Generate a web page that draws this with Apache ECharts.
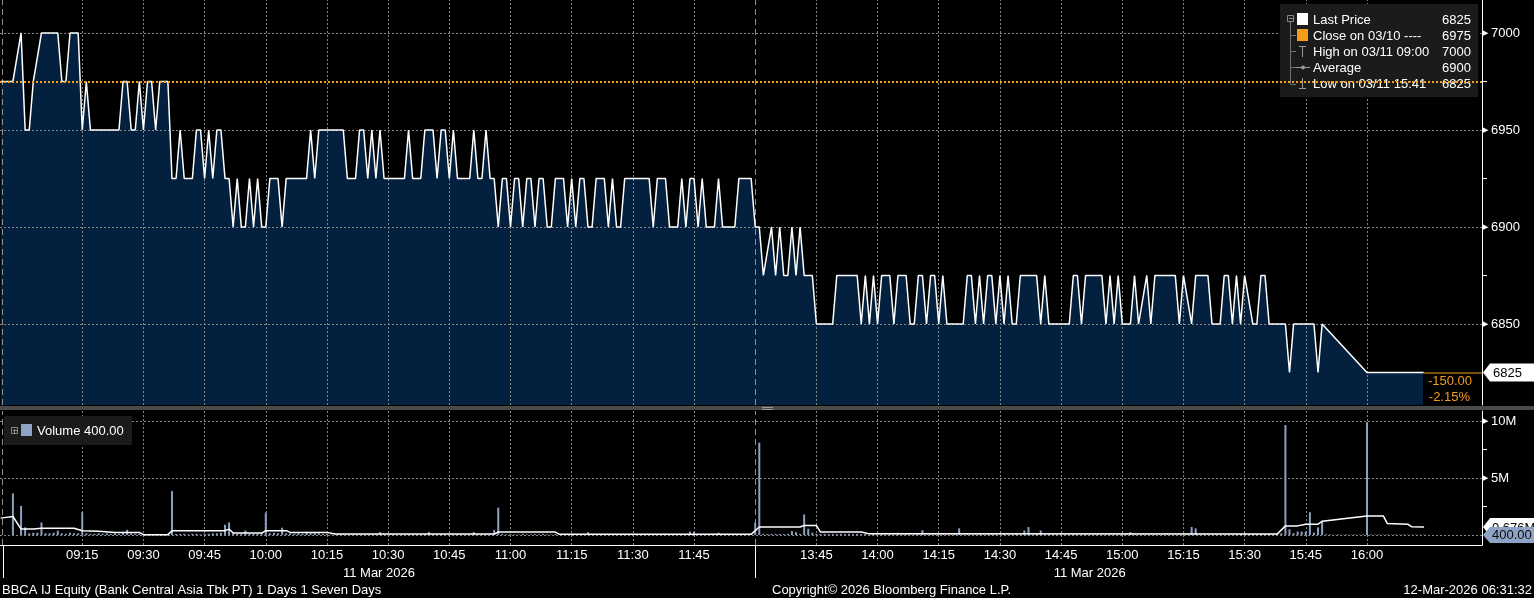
<!DOCTYPE html>
<html><head><meta charset="utf-8">
<script src="https://cdn.jsdelivr.net/npm/echarts@6/dist/echarts.min.js"></script>
<style>html,body{margin:0;padding:0;background:#000;overflow:hidden}#c{width:1534px;height:598px}</style>
</head><body><div id="c"></div>
<script>
// ---------------- DATA ----------------
const priceTimes = ['08:55','08:58','09:00','09:01','09:02','09:03','09:05','09:09','09:10','09:11','09:12','09:14','09:15','09:16','09:17','09:24','09:25','09:26','09:27','09:28','09:29','09:30','09:31','09:32','09:33','09:34','09:36','09:37','09:38','09:39','09:40','09:42','09:43','09:44','09:45','09:46','09:47','09:48','09:49','09:50','09:51','09:52','09:53','09:54','09:55','09:56','09:57','09:58','09:59','10:00','10:01','10:03','10:04','10:05','10:10','10:11','10:12','10:13','10:19','10:20','10:22','10:23','10:24','10:25','10:26','10:27','10:28','10:29','10:34','10:35','10:36','10:38','10:39','10:41','10:42','10:43','10:44','10:45','10:46','10:47','10:50','10:51','10:52','10:53','10:54','10:55','10:56','10:57','10:58','10:59','11:00','11:01','11:02','11:03','11:04','11:05','11:06','11:07','11:08','11:09','11:10','11:11','11:13','11:14','11:15','11:16','11:17','11:18','11:19','11:20','11:21','11:23','11:24','11:25','11:26','11:27','11:28','11:34','11:35','11:36','11:38','11:39','11:41','11:42','11:43','11:44','11:45','11:46','11:47','11:48','11:50','11:51','11:52','11:55','11:56','11:59','12:00',
'13:31','13:32','13:34','13:35','13:36','13:37','13:38','13:39','13:40','13:41','13:42','13:44','13:45','13:49','13:50','13:55','13:56','13:57','13:58','13:59','14:00','14:01','14:03','14:04','14:05','14:07','14:08','14:09','14:10','14:11','14:12','14:13','14:14','14:15','14:16','14:17','14:21','14:22','14:23','14:24','14:25','14:26','14:27','14:28','14:29','14:30','14:31','14:32','14:33','14:34','14:35','14:39','14:40','14:41','14:42','14:47','14:48','14:49','14:50','14:51','14:55','14:56','14:57','14:58','14:59','15:00','15:02','15:03','15:04','15:06','15:07','15:08','15:13','15:14','15:15','15:17','15:18','15:21','15:22','15:24','15:25','15:26','15:27','15:28','15:29','15:30','15:32','15:33','15:34','15:35','15:36','15:40','15:41','15:42','15:47','15:48','15:49','16:00','16:14'];
const priceValues = [6975,6975,7000,6950,6950,6975,7000,7000,6975,6975,7000,7000,6950,6975,6950,6950,6975,6975,6950,6950,6975,6950,6975,6975,6950,6975,6975,6925,6925,6950,6925,6925,6950,6950,6925,6950,6925,6950,6950,6925,6925,6900,6925,6900,6900,6925,6900,6925,6900,6900,6925,6925,6900,6925,6925,6950,6925,6950,6950,6925,6925,6950,6950,6925,6950,6925,6950,6925,6925,6950,6925,6925,6950,6950,6925,6950,6950,6925,6950,6925,6925,6950,6925,6925,6950,6925,6925,6900,6925,6925,6900,6925,6925,6900,6925,6925,6900,6925,6925,6900,6900,6925,6925,6900,6925,6900,6925,6925,6900,6900,6925,6925,6900,6925,6900,6900,6925,6925,6900,6925,6925,6900,6900,6925,6900,6925,6925,6900,6925,6900,6900,6925,6900,6900,6925,6925,6900,
6900,6875,6900,6875,6900,6875,6875,6900,6875,6900,6875,6875,6850,6850,6875,6875,6850,6875,6850,6875,6850,6875,6875,6850,6875,6875,6850,6850,6875,6875,6850,6875,6875,6850,6875,6850,6850,6875,6875,6850,6875,6850,6875,6875,6850,6875,6850,6875,6850,6850,6875,6875,6850,6875,6850,6850,6875,6875,6850,6875,6875,6850,6875,6850,6875,6850,6850,6875,6850,6875,6850,6875,6875,6850,6875,6850,6875,6875,6850,6850,6875,6875,6850,6875,6850,6875,6850,6850,6875,6875,6850,6850,6825,6850,6850,6825,6850,6825,6825];

// volume per minute (millions), morning 08:55..12:00, afternoon 13:31..16:14
const volMorningStart = '08:55';
const volMorning = [
0,0,0,3.65,0,2.55,0.67,0.15,0.2,0.2,
1.1,0.15,0.15,0.2,0.38,0.15,0.1,0.2,0.15,0.15,
2.0,0.15,0.1,0.1,0.15,0.1,0.15,0.1,0.15,0.1,
0.2,0.46,0.15,0.1,0.1,0.05,0.05,0.05,0.1,0.05,
0.05,0.1,3.85,0.1,0.1,0.1,0.05,0.1,0.1,0.05,
0.1,0.1,0.15,0.15,0.2,0.9,1.1,0.15,0.1,0.1,
0.38,0.1,0.1,0.1,0.15,1.97,0.15,0.2,0.15,0.64,
0.15,0.15,0.1,0.15,0.1,0.29,0.15,0.2,0.15,0.1,
0.1,0.05,0.05,0.1,0.05,0.05,0.05,0.08,0.05,0.05,
0.05,0.08,0.05,0.25,0.05,0.05,0.08,0.05,0.05,0.05,
0.08,0.05,0.05,0.05,0.08,0.25,0.05,0.05,0.08,0.05,
0.05,0.05,0.08,0.05,0.05,0.05,0.25,0.05,0.05,0.08,
0.05,0.45,2.4,0.1,0.05,0.08,0.05,0.05,0.1,0.05,
0.05,0.08,0.05,0.1,0.05,0.05,0.08,0.05,0.05,0.05,
0.08,0.05,0.05,0.1,0.25,0.05,0.05,0.08,0.05,0.05,
0.05,0.08,0.05,0.05,0.1,0.05,0.05,0.08,0.05,0.05,
0.08,0.05,0.05,0.1,0.05,0.05,0.08,0.05,0.05,0.3,
0.3,0.05,0.08,0.05,0.05,0.1,0.2,0.05,0.05,0.08,
0.05,0.05,0.08,0.05,0.1,1.1];
const volAfternoonStart = '13:31';
const volAfternoon = [
8.1,0.1,0.08,0.1,0.08,0.1,0.08,0.1,0.35,0.25,
0.1,1.8,0.55,0.2,0.1,0.08,0.1,0.08,0.1,0.08,
0.1,0.08,0.1,0.08,0.1,0.08,0.1,0.05,0.08,0.05,
0.08,0.05,0.1,0.05,0.2,0.05,0.08,0.05,0.05,0.08,
0.43,0.05,0.08,0.05,0.05,0.08,0.05,0.05,0.1,0.58,
0.05,0.08,0.05,0.05,0.08,0.05,0.05,0.1,0.05,0.05,
0.08,0.05,0.05,0.08,0.05,0.4,0.7,0.05,0.08,0.4,
0.05,0.08,0.05,0.05,0.08,0.05,0.05,0.08,0.05,0.05,
0.08,0.05,0.05,0.08,0.05,0.05,0.08,0.05,0.05,0.08,
0.1,0.25,0.1,0.05,0.08,0.05,0.05,0.08,0.05,0.05,
0.08,0.05,0.05,0.08,0.05,0.1,0.7,0.58,0.05,0.08,
0.05,0.05,0.08,0.05,0.05,0.08,0.05,0.1,0.08,0.15,
0.08,0.1,0.08,0.1,0.08,0.1,0.08,0.1,0.15,9.65,
0.5,0.15,0.3,0.3,0.3,2.0,0.2,0.67,1.25,0.05,
0.05,0.03,0.05,0.03,0.05,0.03,0.05,0.03,0.05,9.9,
0.05,0.03,0.05,0.03,0.05,0.03,0.05,0.03,0.05,0.03,
0.03,0.03,0.03,0.03];
const volAvgTimes = ['08:55','08:58','09:00','09:03','09:05','09:13','09:15','09:19','09:23','09:29','09:30','09:36','09:37','09:50','09:51','09:52','09:59','10:00','10:05','10:06','10:15','10:17','10:56','10:57','11:11','11:12','11:59','13:31','13:41','13:42','13:45','13:46','13:56','13:58','15:38','15:40','15:43','15:45','15:48','15:49','16:00','16:04','16:05','16:10','16:11','16:14'];
const volAvgValues = [1.48,1.62,0.52,0.52,0.6,0.6,0.38,0.32,0.23,0.23,0.03,0.03,0.38,0.38,0.52,0.17,0.17,0.38,0.38,0.23,0.23,0.09,0.08,0.26,0.26,0.06,0.06,0.7,0.7,0.84,0.84,0.26,0.26,0.1,0.08,0.8,0.8,0.95,0.95,1.2,1.67,1.67,1.0,0.95,0.72,0.7];

const prevClose = 6975;
const lastPrice = 6825;
const highPrice = 7000, avgPrice = 6900, lowPrice = 6825;
const lastVolume = 400.00;           // shares
const lastVolAvgLabel = '0.676M';
const priceLabels = [6850, 6900, 6950, 7000];
const priceMinorTicks = [6875, 6925, 6975];
const volLabels = [5, 10];
const volMinorTicks = [2.5, 7.5];
const volGrid = [0, 5, 10];
const timeLabels = ['09:15','09:30','09:45','10:00','10:15','10:30','10:45','11:00','11:15','11:30','11:45','13:45','14:00','14:15','14:30','14:45','15:00','15:15','15:30','15:45','16:00'];
const sessionBreaks = ['08:55:30', '12:00'];
const afternoonOpen = '13:30';
const axisStart = '08:54:50', axisEnd = '16:28:12';
const priceMin = 6808.25, priceMax = 7017;
const volMin = -0.877, volMax = 10.877;
const dateLabel = '11 Mar 2026';
const footerLeft = 'BBCA IJ Equity (Bank Central Asia Tbk PT) 1 Days 1 Seven Days';
const footerMid = 'Copyright\u00a9 2026 Bloomberg Finance L.P.';
const footerRight = '12-Mar-2026 06:31:32';

// ---------------- helpers ----------------
// compressed trading-minute index: 09:00 = 0, lunch break (12:00-13:30) removed
function toIdx(t) {
  const p = t.split(':').map(Number);
  const m = p[0] * 60 + p[1] + (p[2] || 0) / 60;
  return m <= 720 ? m - 540 : m - 630;
}
function idxToLabel(v) {
  const m = Math.round(v <= 180 ? v + 540 : v + 630);
  return String(Math.floor(m / 60)).padStart(2, '0') + ':' + String(m % 60).padStart(2, '0');
}
const FONT = '"Liberation Sans", Arial, sans-serif';
const GRIDC = '#858585';
const pricePts = priceTimes.map((t, k) => [toIdx(t), priceValues[k]]);
const volPts = volMorning.map((v, k) => [toIdx(volMorningStart) + k, v])
  .concat(volAfternoon.map((v, k) => [toIdx(volAfternoonStart) + k, v]));
const avgPts = volAvgTimes.map((t, k) => [toIdx(t), volAvgValues[k]]);
const tickIdx = timeLabels.map(toIdx);
const breakIdx = sessionBreaks.map(toIdx);
const X0 = toIdx(axisStart), X1 = toIdx(axisEnd);

function gridLines(yVals) {
  return yVals.map(v => ({ yAxis: v }))
    .concat(tickIdx.map(v => ({ xAxis: v })))
    .concat(breakIdx.map(v => ({ xAxis: v, lineStyle: { type: [6, 4], color: '#8f8f8f', width: 1 } })));
}
const tri = v => '{t|\u25B6}{v|' + v + '}';
const richLbl = { t: { fontSize: 7, color: '#fff', padding: [0, 3, 0, 0] }, v: { fontSize: 13, color: '#fff', fontFamily: FONT } };

const chart = echarts.init(document.getElementById('c'), null, { renderer: 'canvas' });
chart.setOption({
  backgroundColor: '#000',
  animation: false,
  grid: [
    { left: 0, right: 52, top: 0, height: 405 },
    { left: 0, right: 52, top: 411, height: 134 }
  ],
  xAxis: [
    { gridIndex: 0, type: 'value', min: X0, max: X1, show: false, axisLine: { onZero: false } },
    { gridIndex: 1, type: 'value', min: X0, max: X1,
      axisLine: { show: true, onZero: false, lineStyle: { color: '#fff', width: 1 } },
      axisTick: { show: false }, splitLine: { show: false },
      axisLabel: { customValues: tickIdx, formatter: idxToLabel, color: '#fff', fontSize: 13, fontFamily: FONT, margin: 4 } }
  ],
  yAxis: [
    { gridIndex: 0, type: 'value', position: 'right', min: priceMin, max: priceMax,
      axisLine: { show: true, onZero: false, lineStyle: { color: '#fff', width: 1 } },
      axisTick: { show: true, customValues: priceMinorTicks, length: 5, lineStyle: { color: '#fff' } },
      splitLine: { show: false },
      axisLabel: { customValues: priceLabels, formatter: tri, rich: richLbl, margin: 1, color: '#fff', fontFamily: FONT } },
    { gridIndex: 1, type: 'value', position: 'right', min: volMin, max: volMax,
      axisLine: { show: true, onZero: false, lineStyle: { color: '#fff', width: 1 } },
      axisTick: { show: true, customValues: volMinorTicks, length: 5, lineStyle: { color: '#fff' } },
      splitLine: { show: false },
      axisLabel: { customValues: volLabels, formatter: v => tri(v + 'M'), rich: richLbl, margin: 1, color: '#fff', fontFamily: FONT } }
  ],
  series: [
    { type: 'line', xAxisIndex: 0, yAxisIndex: 0, data: pricePts, showSymbol: false, silent: true, z: 1,
      lineStyle: { width: 0, opacity: 0 }, areaStyle: { color: '#03203f', opacity: 1, origin: 'start' } },
    { type: 'line', xAxisIndex: 0, yAxisIndex: 0, data: [], z: 2, silent: true,
      markLine: { silent: true, symbol: ['none', 'none'], label: { show: false }, animation: false, z: 2,
        lineStyle: { type: [2, 2], color: GRIDC, width: 1 }, data: gridLines(priceLabels) } },
    { type: 'line', xAxisIndex: 0, yAxisIndex: 0, data: pricePts, showSymbol: false, silent: true, z: 3,
      lineStyle: { color: '#ffffff', width: 1.5 } },
    { type: 'line', xAxisIndex: 0, yAxisIndex: 0, data: [], z: 60, silent: true,
      markLine: { silent: true, symbol: ['none', 'none'], label: { show: false }, animation: false, z: 60,
        lineStyle: { type: [2, 2], color: '#f5a01e', width: 2 }, data: [{ yAxis: prevClose }] } },
    { type: 'line', xAxisIndex: 1, yAxisIndex: 1, data: [], z: 2, silent: true,
      markLine: { silent: true, symbol: ['none', 'none'], label: { show: false }, animation: false, z: 2,
        lineStyle: { type: [2, 2], color: GRIDC, width: 1 }, data: gridLines(volGrid) } },
    { type: 'bar', xAxisIndex: 1, yAxisIndex: 1, data: volPts, barWidth: 2, silent: true, z: 3,
      itemStyle: { color: '#8b9fc1' } },
    { type: 'line', xAxisIndex: 1, yAxisIndex: 1, data: avgPts, showSymbol: false, silent: true, z: 4,
      lineStyle: { color: '#ffffff', width: 1.5 } }
  ]
});

// ---------------- annotations positioned through the chart scales ----------------
const px = v => chart.convertToPixel({ xAxisIndex: 1 }, v);
const pyP = v => chart.convertToPixel({ yAxisIndex: 0 }, v);
const pyV = v => chart.convertToPixel({ yAxisIndex: 1 }, v);
const axisX = 1482;
const yLast = pyP(lastPrice);
const yVol0 = pyV(lastVolume / 1e6);
const yAvg = pyV(volAvgValues[volAvgValues.length - 1]);
const xLastData = px(toIdx(priceTimes[priceTimes.length - 1]));
const xB0 = px(breakIdx[0]), xB1 = px(breakIdx[1]);
const xAft = px(toIdx(afternoonOpen));
const T = (x, y, text, o) => Object.assign({ type: 'text', x: x, y: y, z: 80,
  style: Object.assign({ text: text, fill: '#fff', font: '13px ' + FONT, textVerticalAlign: 'middle' }, (o && o.style) || {}) }, o && o.z ? { z: o.z } : {});
const L = (x1, y1, x2, y2, c, w, z) => ({ type: 'line', z: z || 80, shape: { x1, y1, x2, y2 }, style: { stroke: c, lineWidth: w || 1 } });
const R = (x, y, w, h, c, z) => ({ type: 'rect', z: z || 80, shape: { x, y, width: w, height: h }, style: { fill: c } });

const g = [];
// panel separator
g.push(R(0, 406, 1534, 4, '#4b4b4b', 70));
g.push(R(762, 407, 11, 1, '#9a9a9a', 71), R(762, 409, 11, 1, '#9a9a9a', 71));
// legend box
g.push(R(1280, 4, 198, 93, '#1b1b1b', 50));
g.push({ type: 'rect', z: 55, shape: { x: 1287.5, y: 15.5, width: 6, height: 6 }, style: { fill: 'none', stroke: '#8a8a8a', lineWidth: 1 } });
g.push(L(1289, 18.5, 1293, 18.5, '#8a8a8a', 1, 55));
g.push(L(1290.5, 22, 1290.5, 84, '#6f6f6f', 1, 55));
[35, 51, 67, 84].forEach(y => g.push(L(1290.5, y + 0.5, 1296, y + 0.5, '#6f6f6f', 1, 55)));
g.push(R(1297, 13, 11, 12, '#ffffff', 55));
g.push(R(1297, 29, 11, 12, '#f59d1a', 55));
// high icon
g.push(L(1302.5, 46, 1302.5, 57, '#9a9a9a', 1, 55), L(1299, 46.5, 1306, 46.5, '#9a9a9a', 1, 55));
// average icon
g.push(L(1296, 67.5, 1310, 67.5, '#9a9a9a', 1, 55), { type: 'circle', z: 56, shape: { cx: 1303, cy: 67.5, r: 2 }, style: { fill: '#9a9a9a' } });
// low icon
g.push(L(1302.5, 78, 1302.5, 89, '#9a9a9a', 1, 55), L(1299, 88.5, 1306, 88.5, '#9a9a9a', 1, 55));
const legRows = [['Last Price', lastPrice], ['Close on 03/10 ----', prevClose], ['High on 03/11 09:00', highPrice], ['Average', avgPrice], ['Low on 03/11 15:41', lowPrice]];
legRows.forEach((r, k) => {
  const y = 20 + k * 16;
  g.push(T(1313, y, r[0], { z: 56 }));
  g.push(T(1471, y, String(r[1]), { z: 56, style: { textAlign: 'right' } }));
});
// change box
g.push(R(1423, yLast, axisX - 1423, 405 - yLast, '#000000', 55));
g.push(L(1423, yLast + 0.5, axisX, yLast + 0.5, '#f59d1a', 1, 56));
g.push(T(1472, yLast + 9, (lastPrice - prevClose).toFixed(2), { z: 57, style: { fill: '#f29a22', textAlign: 'right' } }));
g.push(T(1470, yLast + 25, ((lastPrice - prevClose) / prevClose * 100).toFixed(2) + '%', { z: 57, style: { fill: '#f29a22', textAlign: 'right' } }));
// last price tag
g.push({ type: 'polygon', z: 90, shape: { points: [[axisX + 1, yLast], [axisX + 8, yLast - 9], [1534, yLast - 9], [1534, yLast + 9], [axisX + 8, yLast + 9]] }, style: { fill: '#ffffff' } });
g.push(T(1493, yLast + 0.5, String(lastPrice), { z: 91, style: { fill: '#000' } }));
// volume avg tag (partly hidden) and volume tag
g.push({ type: 'polygon', z: 90, shape: { points: [[axisX + 1, yAvg], [axisX + 8, yAvg - 9], [1534, yAvg - 9], [1534, yAvg + 9], [axisX + 8, yAvg + 9]] }, style: { fill: '#ffffff' } });
g.push(T(1492, yAvg + 1, lastVolAvgLabel, { z: 91, style: { fill: '#000' } }));
g.push({ type: 'polygon', z: 92, shape: { points: [[axisX + 1, yVol0], [axisX + 8, yVol0 - 8], [1534, yVol0 - 8], [1534, yVol0 + 8], [axisX + 8, yVol0 + 8]] }, style: { fill: '#8ea3c5' } });
g.push(T(1492, yVol0 + 0.5, lastVolume.toFixed(2), { z: 93, style: { fill: '#0a0a0a' } }));
// volume legend
g.push(R(4, 416, 128, 29, '#1b1b1b', 50));
g.push({ type: 'rect', z: 55, shape: { x: 11.5, y: 427.5, width: 6, height: 6 }, style: { fill: 'none', stroke: '#8a8a8a', lineWidth: 1 } });
g.push(L(13, 430.5, 17, 430.5, '#8a8a8a', 1, 55), L(14.5, 429, 14.5, 433, '#8a8a8a', 1, 55));
g.push(R(21, 424, 11, 12, '#8ea3c5', 55));
g.push(T(37, 431, 'Volume ' + lastVolume.toFixed(2), { z: 56 }));
// session separators below the axis
[xB0, xB1].forEach(x => g.push(L(Math.round(x) + 0.5, 545, Math.round(x) + 0.5, 578, '#ffffff', 1, 80)));
// date labels
g.push(T((xB0 + xB1) / 2, 573, dateLabel, { style: { textAlign: 'center' } }));
g.push(T((xAft + xLastData) / 2, 573, dateLabel, { style: { textAlign: 'center' } }));
// footer
g.push(T(2, 590, footerLeft, { style: { font: '13px ' + FONT } }));
g.push(T(772, 590, footerMid, { style: { font: '13px ' + FONT } }));
g.push(T(1532, 590, footerRight, { style: { font: '13px ' + FONT, textAlign: 'right' } }));

chart.setOption({ graphic: g });
</script>
</body></html>
